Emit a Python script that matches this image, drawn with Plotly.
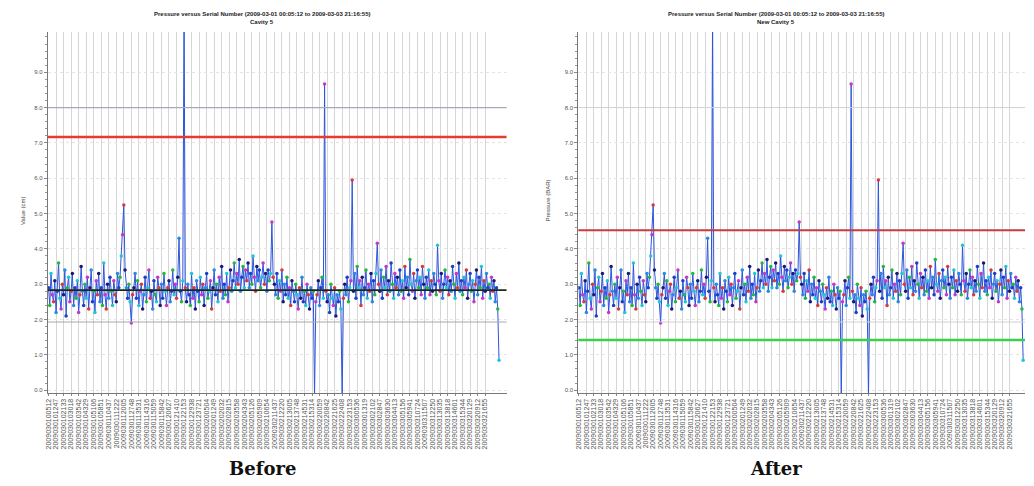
import plotly.graph_objects as go

# ---------------- DATA ----------------
measurements = [
    2.9, 2.4, 3.3, 2.7, 2.5, 3.1, 2.2, 2.8, 3.6, 2.6,
    2.3, 3.0, 2.7, 3.4, 2.1, 2.9, 3.2, 2.5, 2.8, 3.3,
    2.4, 2.9, 2.6, 3.1, 2.2, 2.7, 3.5, 2.8, 2.4, 3.0,
    2.6, 3.2, 2.3, 2.9, 3.4, 2.5, 2.8, 2.2, 3.1, 2.7,
    3.3, 2.5, 2.9, 2.4, 3.6, 2.7, 2.3, 3.0, 2.6, 3.2,
    2.8, 2.4, 3.1, 2.7, 2.5, 3.3, 2.9, 3.2, 3.8, 4.4,
    5.24, 3.4, 2.9, 2.6, 3.0, 2.5, 1.9, 2.7, 2.9, 3.3,
    2.6, 3.1, 2.4, 2.8, 3.0, 2.3, 2.7, 3.2, 2.5, 2.9,
    3.4, 2.6, 2.8, 2.3, 3.1, 2.7, 2.5, 3.2, 2.9, 2.4,
    3.0, 2.6, 3.3, 2.8, 2.4, 2.9, 3.1, 2.5, 2.8, 3.4,
    2.7, 3.0, 2.6, 3.2, 4.3, 2.8, 2.5, 3.1, 10.6, 2.9,
    2.5, 3.0, 2.7, 2.4, 3.3, 2.6, 2.9, 2.3, 3.1, 2.8,
    2.5, 3.2, 2.7, 3.0, 2.4, 2.9, 3.3, 2.6, 2.8, 3.1,
    2.3, 2.9, 3.4, 2.7, 3.0, 2.5, 3.2, 2.8, 3.5, 2.6,
    3.0, 2.7, 3.3, 2.5, 2.9, 3.4, 2.8, 3.1, 3.6, 2.9,
    3.3, 3.0, 3.7, 2.8, 3.2, 3.5, 2.9, 3.4, 3.1, 3.6,
    2.9, 3.3, 3.0, 3.8, 3.2, 2.8, 3.5, 3.1, 3.4, 2.9,
    3.2, 3.6, 3.0, 3.3, 2.8, 3.4, 3.1, 3.3, 4.76, 3.2,
    3.0, 2.7, 3.3, 2.6, 3.1, 2.8, 3.4, 2.5, 3.0, 2.7,
    3.2, 2.6, 2.9, 2.4, 3.1, 2.8, 2.5, 3.0, 2.7, 2.3,
    2.9, 2.6, 3.2, 2.5, 2.8, 2.4, 3.0, 2.7, 2.3, 2.9,
    2.6, 2.8, -0.2, 2.5, 2.7, 3.1, 2.4, 2.9, 3.2, 2.6,
    8.67, 2.8, 2.5, 2.7, 2.2, 3.0, 2.6, 2.4, 2.9, 2.1,
    2.7, 2.5, 2.8, 2.3, -0.2, 2.6, 3.0, 2.7, 3.2, 2.5,
    2.9, 3.1, 5.95, 2.8, 3.3, 2.6, 3.5, 2.9, 3.1, 2.4,
    3.2, 2.7, 2.9, 3.4, 2.6, 3.0, 2.8, 3.3, 2.5, 3.1,
    2.7, 3.3, 4.16, 3.0, 2.8, 3.4, 2.6, 3.2, 2.9, 3.5,
    2.7, 3.1, 2.8, 3.6, 3.0, 2.6, 3.3, 2.9, 3.2, 2.7,
    3.4, 2.8, 3.1, 2.6, 3.5, 2.9, 3.2, 2.7, 3.7, 3.0,
    2.8, 3.3, 2.6, 3.1, 3.4, 2.9, 3.2, 2.7, 3.5, 3.0,
    2.6, 3.2, 2.9, 3.4, 2.7, 3.1, 2.8, 3.3, 3.0, 2.7,
    4.1, 3.1, 2.8, 3.3, 2.6, 3.0, 3.4, 2.9, 3.2, 2.7,
    3.1, 2.8, 3.5, 3.0, 2.6, 3.3, 2.9, 3.6, 2.8, 3.1,
    2.7, 3.2, 2.9, 3.4, 2.6, 3.0, 3.3, 2.8, 3.1, 2.5,
    3.0, 3.4, 2.7, 3.2, 2.9, 3.5, 2.6, 3.1, 2.8, 3.3,
    2.9, 3.0, 2.6, 3.2, 2.8, 3.1, 2.5, 2.9, 2.3, 0.85,
]

serial_labels = [
    "2009030100512", "2009030101247", "2009030102133", "2009030103018", "2009030103542",
    "2009030104329", "2009030105106", "2009030105851", "2009030110437", "2009030111222",
    "2009030112005", "2009030112748", "2009030113531", "2009030114316", "2009030115059",
    "2009030115842", "2009030120627", "2009030121410", "2009030122153", "2009030122938",
    "2009030123721", "2009030200504", "2009030201249", "2009030202032", "2009030202815",
    "2009030203558", "2009030204343", "2009030205126", "2009030205909", "2009030210654",
    "2009030211437", "2009030212220", "2009030213005", "2009030213748", "2009030214531",
    "2009030215314", "2009030220059", "2009030220842", "2009030221625", "2009030222408",
    "2009030223153", "2009030300536", "2009030301319", "2009030302102", "2009030302847",
    "2009030303630", "2009030304413", "2009030305156", "2009030305941", "2009030310724",
    "2009030311507", "2009030312250", "2009030313035", "2009030313818", "2009030314601",
    "2009030315344", "2009030320129", "2009030320912", "2009030321655",
]

y_tick_values = [0, 1, 2, 3, 4, 5, 6, 7, 8, 9]
y_tick_labels = ["0.0", "1.0", "2.0", "3.0", "4.0", "5.0", "6.0", "7.0", "8.0", "9.0"]

# control / reference levels
before_ucl = 7.17
before_center = 2.83
after_ucl = 4.53
after_lcl = 1.42
spec_high = 8.0
spec_low = 1.93

titles_before = ["Pressure versus Serial Number (2009-03-01 00:05:12 to 2009-03-03 21:16:55)", "Cavity 5"]
titles_after = ["Pressure versus Serial Number (2009-03-01 00:05:12 to 2009-03-03 21:16:55)", "New Cavity 5"]
y_title_before = "Value (cm)"
y_title_after = "Pressure (BAR)"
panel_names = ["Before", "After"]

# ---------------- FIGURE ----------------
W, H, OFF = 1018, 476, 8  # page body margin offsets the figure by 8px


def px(x):
    return (x - OFF) / W


def py(y):
    return 1 - (y - OFF) / H


n = len(measurements)
x_idx = list(range(n))
palette = ["#1d3fc4", "#22b83a", "#1fc8d0", "#c836c8", "#d83a3a", "#1a1a70", "#2a8ae0"]
marker_colors = [palette[i % len(palette)] for i in range(n)]
tickvals = list(range(0, 6 * len(serial_labels), 6))

fig = go.Figure()
for xa, ya in (("x", "y"), ("x2", "y2")):
    fig.add_trace(go.Scatter(
        x=x_idx, y=measurements, xaxis=xa, yaxis=ya, mode="lines+markers",
        line=dict(color="#2d55dc", width=1),
        marker=dict(size=3.5, color=marker_colors),
        showlegend=False, hoverinfo="skip",
    ))

shapes = []


def hline(xref, yref, val, color, width, dash="solid"):
    shapes.append(dict(type="line", xref=xref + " domain", x0=0, x1=1,
                       yref=yref, y0=val, y1=val,
                       line=dict(color=color, width=width, dash=dash), layer="above"))


hline("x", "y", spec_high, "#a8a8b8", 1.2)
hline("x", "y", spec_low, "#a8a8a8", 1.2)
hline("x", "y", before_ucl, "#e83a30", 2.5)
hline("x", "y", before_center, "#1a2a1a", 1.8)
hline("x2", "y2", spec_high, "#d0d0dc", 1)
hline("x2", "y2", spec_low, "#d0d0d0", 1)
hline("x2", "y2", after_ucl, "#c83a40", 2)
hline("x2", "y2", after_lcl, "#38d048", 2.5)

axis_common_x = dict(
    tickmode="array", tickvals=tickvals, ticktext=serial_labels,
    tickangle=-90, tickfont=dict(family="Liberation Sans", size=7, color="#555"),
    showgrid=True, gridcolor="#d6d6d6", gridwidth=1, showline=True, linecolor="#777",
    linewidth=1, ticks="outside", ticklen=2, tickcolor="#888", zeroline=False,
)
axis_common_y = dict(
    range=[-0.08, 10.14], tickmode="array", tickvals=y_tick_values, ticktext=y_tick_labels,
    tickfont=dict(family="Liberation Sans", size=6, color="#555"),
    showgrid=True, gridcolor="#e4e4e4", griddash="dot", showline=True, linecolor="#777",
    linewidth=1, ticks="outside", ticklen=3, tickcolor="#888", zeroline=False,
    minor=dict(ticks="outside", ticklen=2, dtick=0.2, tickcolor="#999", showgrid=False),
)

y_dom = [py(393), py(32)]
fig.update_layout(
    width=W, height=H, margin=dict(l=0, r=0, t=0, b=0),
    paper_bgcolor="white", plot_bgcolor="white",
    xaxis=dict(domain=[px(45), px(505)], anchor="y", range=[-0.5, 365], **axis_common_x),
    yaxis=dict(domain=y_dom, anchor="x", **axis_common_y),
    xaxis2=dict(domain=[px(577), px(1025)], anchor="y2", range=[-0.5, 360.5], **axis_common_x),
    yaxis2=dict(domain=y_dom, anchor="x2", **axis_common_y),
    shapes=shapes,
)

annotations = []


def note(x, y, text, font, angle=0):
    annotations.append(dict(x=px(x), y=py(y), xref="paper", yref="paper",
                            xanchor="center", yanchor="middle", text=text,
                            textangle=angle, showarrow=False, font=font))


for cx, lines in ((260, titles_before), (775, titles_after)):
    note(cx, 14, "<b>" + lines[0] + "</b>", dict(family="Liberation Sans", size=6, color="#222"))
    note(cx, 22, "<b>" + lines[1] + "</b>", dict(family="Liberation Sans", size=6, color="#222"))
for cx, cy, t in ((20, 210, y_title_before), (547, 200, y_title_after)):
    note(cx, cy, t, dict(family="Liberation Sans", size=6, color="#444"), angle=-90)
for cx, t in ((260, panel_names[0]), (775, panel_names[1])):
    note(cx, 468, "<b>" + t + "</b>", dict(family="DejaVu Serif", size=18, color="#111"))
fig.update_layout(annotations=annotations)

fig.write_html("out.html")
